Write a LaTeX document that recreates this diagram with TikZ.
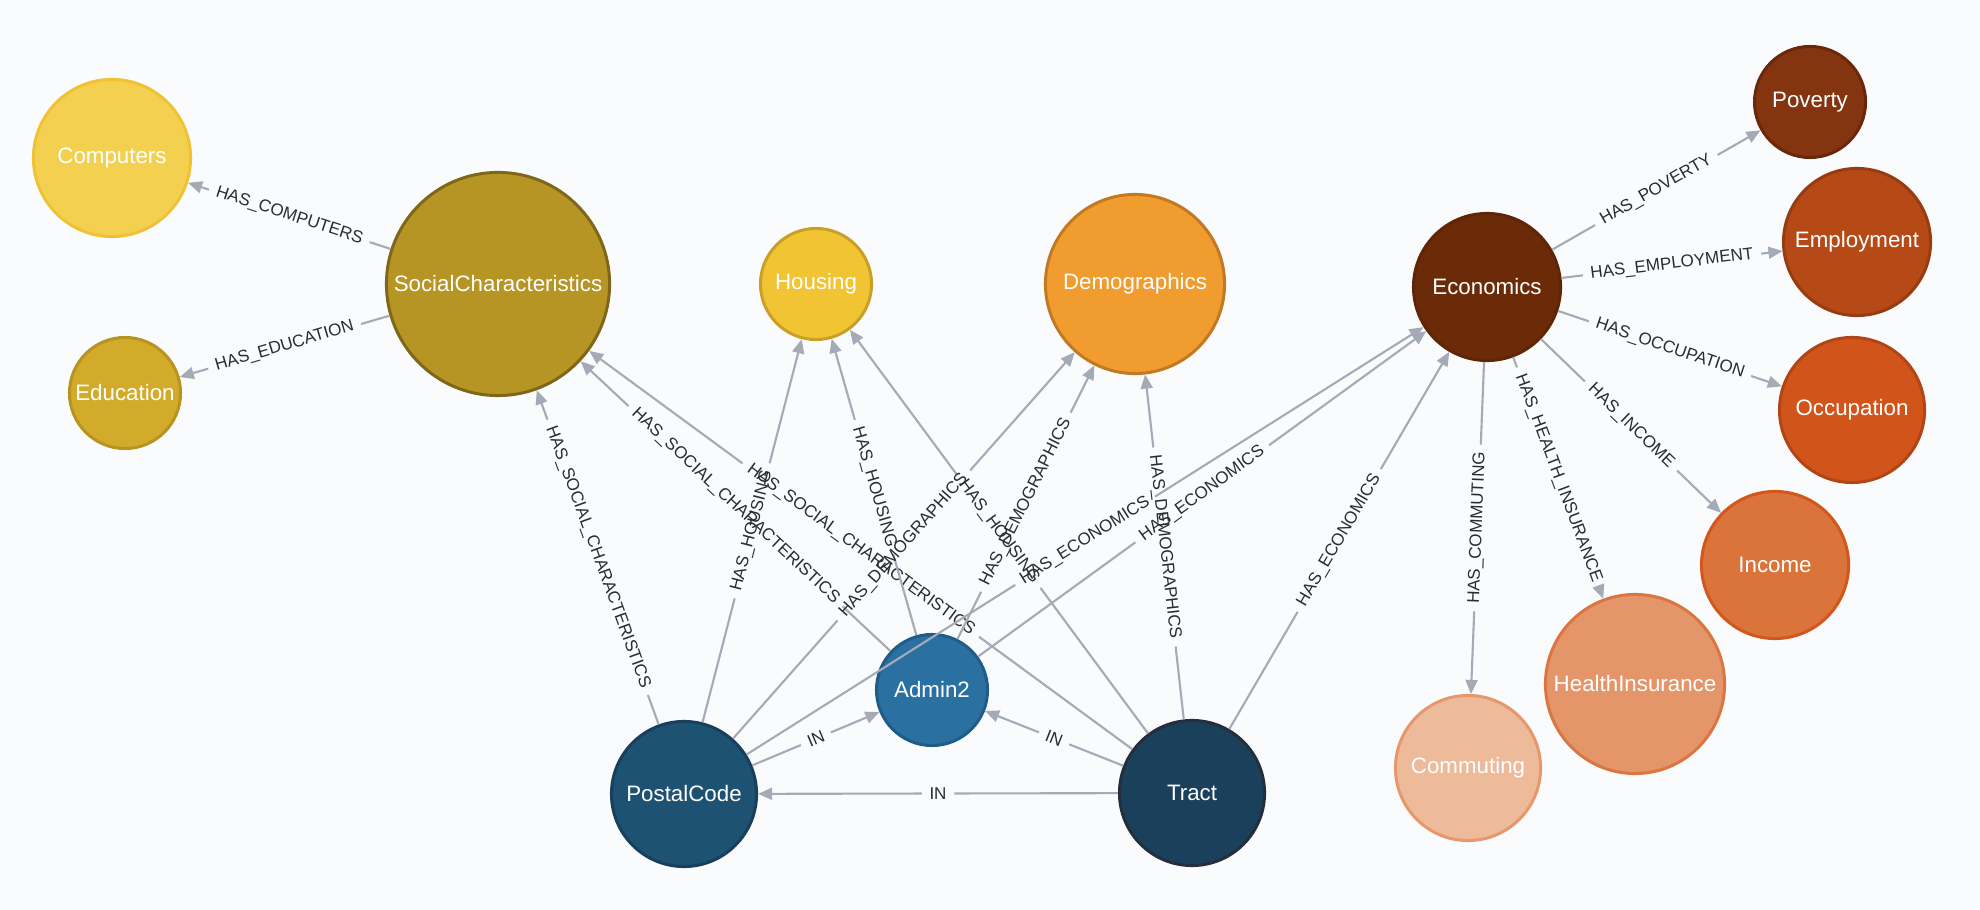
\documentclass[tikz,border=0pt]{standalone}
\usepackage{fontspec}
\setmainfont{Liberation Sans}
\usetikzlibrary{arrows.meta}
\definecolor{bgc}{HTML}{F9FBFD}
\definecolor{edgec}{HTML}{A5ABB6}
\definecolor{lblc}{HTML}{2A2C34}
\newcommand\relx[4]{%
  \path (#2) -- node[lbl] (#1) {#4} (#3);
  \draw[edge] (#2) -- (#1);
  \draw[edge,arr] (#1) -- (#3);
}
\newcommand\gnode[6]{%
  \definecolor{f#1}{HTML}{#4}\definecolor{s#1}{HTML}{#5}%
  \node[nd, fill=f#1, draw=s#1, minimum size=#3*0.02cm-0.85pt] (#1) at #2 {#6};
}
\begin{document}
\begin{tikzpicture}[x=0.01cm,y=-0.01cm,
  nd/.style={circle, line width=0.85pt, inner sep=0pt, text=white, font=\fontsize{6.35}{7}\selectfont},
  edge/.style={draw=edgec, line width=0.6pt},
  arr/.style={-{Triangle[length=4pt,width=3.4pt]}},
  lbl/.style={sloped, font=\fontsize{4.85}{5.5}\selectfont, text=lblc, inner xsep=2pt, inner ysep=0pt}]
\fill[bgc] (0,0) rectangle (1980,910);
\useasboundingbox (0,0) rectangle (1980,910);

\gnode{comp}{(112,158)}{80}{F3D050}{F0C233}{Computers}
\gnode{soc}{(498,284)}{113}{B69525}{7E6719}{SocialCharacteristics}
\gnode{edu}{(125,393)}{57}{D2AB2B}{B8931F}{Education}
\gnode{hous}{(816,284)}{57}{F1C433}{C9A026}{Housing}
\gnode{demo}{(1135,284)}{91}{F19C2F}{C17A22}{Demographics}
\gnode{econ}{(1487,287)}{75}{6B2B08}{5E2507}{Economics}
\gnode{pov}{(1810,102)}{57}{843510}{6B270B}{Poverty}
\gnode{emp}{(1857,242)}{75}{B54A17}{973B10}{Employment}
\gnode{occ}{(1852,410)}{74}{D1541B}{B14516}{Occupation}
\gnode{inc}{(1775,565)}{75}{DA743B}{D3561B}{Income}
\gnode{hi}{(1635,684)}{91}{E4966A}{DB7641}{HealthInsurance}
\gnode{comm}{(1468,768)}{74}{EDBA9A}{E6986C}{Commuting}
\gnode{adm}{(932,690)}{57}{2A70A1}{215C87}{Admin2}
\gnode{pc}{(684,794)}{74}{1E5273}{183F5C}{PostalCode}
\gnode{tr}{(1192,793)}{74}{1A405B}{252E3D}{Tract}

\relx{l1}{soc}{comp}{HAS\_COMPUTERS}
\relx{l2}{soc}{edu}{HAS\_EDUCATION}
\relx{l3}{econ}{pov}{HAS\_POVERTY}
\relx{l4}{econ}{emp}{HAS\_EMPLOYMENT}
\relx{l5}{econ}{occ}{HAS\_OCCUPATION}
\relx{l6}{econ}{inc}{HAS\_INCOME}
\relx{l7}{econ}{hi}{HAS\_HEALTH\_INSURANCE}
\relx{l8}{econ}{comm}{HAS\_COMMUTING}
\relx{l9}{pc}{soc}{HAS\_SOCIAL\_CHARACTERISTICS}
\relx{l10}{adm}{soc}{HAS\_SOCIAL\_CHARACTERISTICS}
\relx{l11}{tr}{soc}{HAS\_SOCIAL\_CHARACTERISTICS}
\relx{l12}{pc}{hous}{HAS\_HOUSING}
\relx{l13}{adm}{hous}{HAS\_HOUSING}
\relx{l14}{tr}{hous}{HAS\_HOUSING}
\relx{l15}{pc}{demo}{HAS\_DEMOGRAPHICS}
\relx{l16}{adm}{demo}{HAS\_DEMOGRAPHICS}
\relx{l17}{tr}{demo}{HAS\_DEMOGRAPHICS}
\relx{l18}{pc}{econ}{HAS\_ECONOMICS}
\relx{l19}{adm}{econ}{HAS\_ECONOMICS}
\relx{l20}{tr}{econ}{HAS\_ECONOMICS}
\relx{l21}{pc}{adm}{IN}
\relx{l22}{tr}{adm}{IN}
\relx{l23}{tr}{pc}{IN}
\end{tikzpicture}
\end{document}
